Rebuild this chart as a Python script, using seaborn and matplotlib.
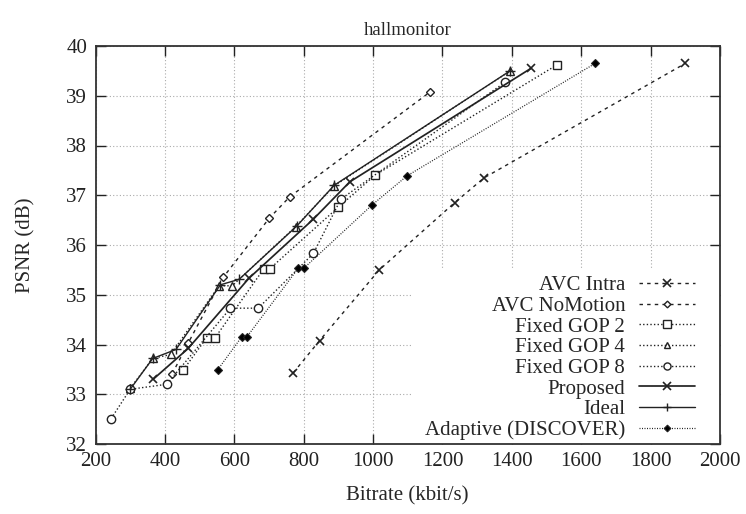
import matplotlib
matplotlib.use("Agg")
import matplotlib.pyplot as plt
from matplotlib.patches import Rectangle
import seaborn as sns
import pandas as pd

# Rate-distortion points (bitrate in kbit/s, PSNR in dB)
intra_rate = [770, 846, 1018, 1235, 1320, 1900]
intra_psnr = [33.43, 34.08, 35.50, 36.85, 37.35, 39.65]

nomotion_rate = [421, 468, 568, 701, 760, 1165]
nomotion_psnr = [33.41, 34.04, 35.35, 36.54, 36.97, 39.08]

gop2_rate = [453, 520, 545, 685, 702, 900, 1005, 1530]
gop2_psnr = [33.49, 34.13, 34.14, 35.52, 35.52, 36.76, 37.40, 39.62]

gop4_rate = [300, 365, 417, 556, 594, 777, 888, 1395]
gop4_psnr = [33.12, 33.72, 33.80, 35.18, 35.18, 36.37, 37.19, 39.50]

gop8_rate = [245, 300, 405, 589, 669, 828, 907, 1380]
gop8_psnr = [32.51, 33.10, 33.20, 34.73, 34.73, 35.83, 36.92, 39.27]

proposed_rate = [366, 467, 642, 828, 933, 1455]
proposed_psnr = [33.30, 33.92, 35.33, 36.52, 37.27, 39.55]

ideal_rate = [300, 365, 432, 560, 614, 780, 888, 1395]
ideal_psnr = [33.10, 33.72, 33.90, 35.20, 35.31, 36.38, 37.20, 39.50]

adaptive_rate = [552, 621, 636, 784, 800, 998, 1098, 1640]
adaptive_psnr = [33.49, 34.15, 34.15, 35.53, 35.53, 36.81, 37.39, 39.65]

x_ticks = [200, 400, 600, 800, 1000, 1200, 1400, 1600, 1800, 2000]
y_ticks = [32, 33, 34, 35, 36, 37, 38, 39, 40]

INK = "#222222"
series = [
    ("AVC Intra", intra_rate, intra_psnr,
     dict(marker="x", markersize=6, mew=1.2, linestyle=(0, (2.5, 3)), lw=1.0)),
    ("AVC NoMotion", nomotion_rate, nomotion_psnr,
     dict(marker="D", markersize=4, mew=1.0, mfc="white", linestyle=(0, (2.5, 3)), lw=1.0)),
    ("Fixed GOP 2", gop2_rate, gop2_psnr,
     dict(marker="s", markersize=6, mew=1.0, mfc="white", linestyle=(0, (1, 1.6)), lw=1.0)),
    ("Fixed GOP 4", gop4_rate, gop4_psnr,
     dict(marker="^", markersize=5.5, mew=1.0, mfc="white", linestyle=(0, (1, 1.6)), lw=1.0)),
    ("Fixed GOP 8", gop8_rate, gop8_psnr,
     dict(marker="o", markersize=6, mew=1.0, mfc="white", linestyle=(0, (1, 1.6)), lw=1.0)),
    ("Proposed", proposed_rate, proposed_psnr,
     dict(marker="x", markersize=6, mew=1.2, linestyle="-", lw=1.25)),
    ("Ideal", ideal_rate, ideal_psnr,
     dict(marker="+", markersize=7, mew=1.0, linestyle="-", lw=1.0)),
    ("Adaptive (DISCOVER)", adaptive_rate, adaptive_psnr,
     dict(marker="D", markersize=4, mew=0.8, mfc="black", linestyle=(0, (0.8, 1.2)), lw=0.9)),
]

sns.set_theme(style="ticks")
plt.rcParams["font.family"] = ["Liberation Serif", "DejaVu Serif"]

fig = plt.figure(figsize=(7.46, 5.14), dpi=100)
ax = fig.add_axes([95.5 / 746, 1 - 444 / 514, (720 - 95.5) / 746, (444 - 46) / 514])

for label, rate, psnr, style in series:
    df = pd.DataFrame({"rate": rate, "psnr": psnr})
    sns.lineplot(data=df, x="rate", y="psnr", ax=ax, sort=False, label=label,
                 color=INK, mec=INK, **style)

ax.set_xlim(200, 2000)
ax.set_ylim(32, 40)
ax.set_xticks(x_ticks)
ax.set_yticks(y_ticks)
ax.tick_params(direction="in", length=7, width=1.0, top=True, right=True,
               labelsize=15, pad=6, colors="#222222")
for sp in ax.spines.values():
    sp.set_linewidth(1.3)
    sp.set_color("#333333")

ax.grid(True, color="#aaaaaa", linestyle=(0, (1, 2)), lw=0.8)
ax.set_axisbelow(True)

# white area behind the key
ax.add_patch(Rectangle((0.508, 0.0), 0.492, 0.437, transform=ax.transAxes,
                       facecolor="white", edgecolor="none", zorder=1.5))

ax.set_xlabel("Bitrate (kbit/s)", fontsize=15, labelpad=11)
ax.set_ylabel("PSNR (dB)", fontsize=15, labelpad=22)
ax.set_title("hallmonitor", fontsize=13.5, pad=8)

ax.legend(loc="lower right", bbox_to_anchor=(0.96, 0.01), frameon=False,
          markerfirst=False, fontsize=15, handlelength=2.7, handletextpad=0.65,
          labelspacing=0.05, borderpad=0, borderaxespad=0, markerscale=0.85)

fig.savefig("out.png", dpi=100)
